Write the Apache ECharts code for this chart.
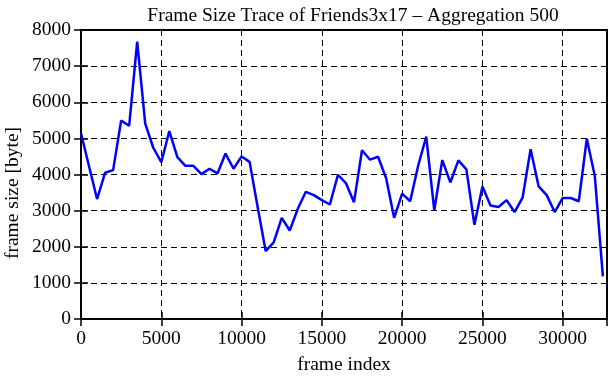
<!DOCTYPE html>
<html>
<head>
<meta charset="utf-8">
<script src="https://cdn.jsdelivr.net/npm/echarts@6/dist/echarts.min.js"></script>
<style>html,body{margin:0;padding:0;background:#fff;}#c{width:611px;height:380px;}</style>
</head>
<body>
<div id="c"></div>
<script>
const titleText = "Frame Size Trace of Friends3x17 \u2013 Aggregation 500";
const xName = "frame index";
const yName = "frame size [byte]";
const frameIndex = [0,500,1000,1500,2000,2500,3000,3500,4000,4500,5000,5500,6000,6500,7000,7500,8000,8500,9000,9500,10000,10500,11000,11500,12000,12500,13000,13500,14000,14500,15000,15500,16000,16500,17000,17500,18000,18500,19000,19500,20000,20500,21000,21500,22000,22500,23000,23500,24000,24500,25000,25500,26000,26500,27000,27500,28000,28500,29000,29500,30000,30500,31000,31500,32000,32500];
const frameSize = [5140,4230,3320,4050,4120,5490,5350,7680,5410,4740,4340,5200,4480,4240,4240,4010,4160,4030,4580,4160,4500,4350,3100,1880,2120,2800,2450,3050,3520,3430,3290,3170,3990,3760,3230,4670,4410,4490,3900,2800,3470,3260,4250,5050,3010,4400,3780,4390,4140,2610,3670,3140,3100,3290,2960,3360,4700,3670,3430,2960,3350,3350,3260,4990,3950,1180];
const xTicks = [0,5000,10000,15000,20000,25000,30000];
const yTicks = [0,1000,2000,3000,4000,5000,6000,7000,8000];
const xMax = 32757;

const font = "'Liberation Serif', 'Times New Roman', serif";
const chart = echarts.init(document.getElementById('c'), null, {renderer:'canvas'});
const dash = {type:[6,4], color:'#000', width:1};
const tickStyle = {show:true, inside:true, length:7, lineStyle:{color:'#000', width:1.5}};
chart.setOption({
  animation:false,
  backgroundColor:'#fff',
  title:{text:titleText, left:348, textAlign:'center', top:1, textStyle:{fontFamily:font, fontWeight:'normal', fontSize:19.5, color:'#000'}},
  grid:{left:81, right:4, top:30, bottom:51, show:true, borderColor:'#000', borderWidth:2, backgroundColor:'transparent'},
  xAxis:[{
    type:'value', min:0, max:xMax, interval:5000, position:'bottom',
    axisLine:{show:false}, axisTick:tickStyle,
    splitLine:{show:true, lineStyle:dash},
    axisLabel:{color:'#000', fontFamily:font, fontSize:19.5, margin:10, showMaxLabel:false,
      formatter:v=>xTicks.indexOf(v)>=0?String(v):''},
    name:xName, nameLocation:'middle', nameGap:36, nameTextStyle:{fontFamily:font, fontSize:19.5, color:'#000'}
  },{
    type:'value', min:0, max:xMax, interval:5000, position:'top',
    axisLine:{show:false}, axisTick:tickStyle, splitLine:{show:false}, axisLabel:{show:false}
  }],
  yAxis:[{
    type:'value', min:0, max:8000, interval:1000, position:'left',
    axisLine:{show:false}, axisTick:tickStyle,
    splitLine:{show:true, lineStyle:dash},
    axisLabel:{color:'#000', fontFamily:font, fontSize:19.5, margin:10,
      formatter:v=>yTicks.indexOf(v)>=0?String(v):''}
  },{
    type:'value', min:0, max:8000, interval:1000, position:'right',
    axisLine:{show:false}, axisTick:tickStyle, splitLine:{show:false}, axisLabel:{show:false}
  }],
  graphic:[{
    type:'text', x:13, y:193, rotation:Math.PI/2,
    style:{text:yName, fontFamily:font, fontSize:19.5, fill:'#000', align:'center', verticalAlign:'middle'}
  }],
  series:[{
    type:'line', data:frameIndex.map((x,i)=>[x, frameSize[i]]),
    showSymbol:false, symbol:'none',
    lineStyle:{color:'#0000ff', width:2.5}, itemStyle:{color:'#0000ff'}
  }]
});
</script>
</body>
</html>
